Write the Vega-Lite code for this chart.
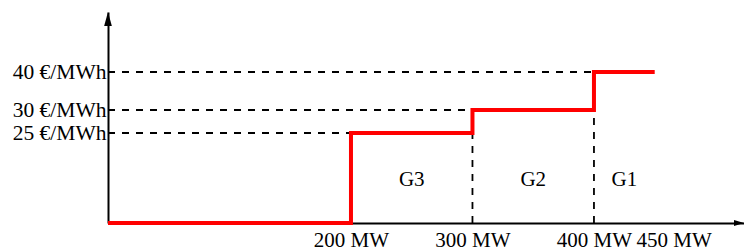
{
  "$schema": "https://vega.github.io/schema/vega-lite/v6.json",
  "width": 636,
  "height": 211,
  "autosize": {"type": "none"},
  "padding": {"left": 108, "top": 12, "right": 0, "bottom": 27},
  "background": "white",
  "config": {"view": {"stroke": null}},
  "datasets": {
    "steps": [
      {"mw": 0, "price": 0},
      {"mw": 200, "price": 25},
      {"mw": 300, "price": 30},
      {"mw": 400, "price": 40},
      {"mw": 450, "price": 40}
    ],
    "guides": [
      {"x": 0, "x2": 200, "y": 25, "y2": 25},
      {"x": 0, "x2": 300, "y": 30, "y2": 30},
      {"x": 0, "x2": 400, "y": 40, "y2": 40},
      {"x": 300, "x2": 300, "y": 0, "y2": 25},
      {"x": 400, "x2": 400, "y": 0, "y2": 30}
    ],
    "gens": [
      {"mw": 250, "price": 12, "name": "G3"},
      {"mw": 350, "price": 12, "name": "G2"},
      {"mw": 425, "price": 12, "name": "G1"}
    ],
    "arrowY": [{"mw": 0, "price": 55.9}],
    "arrowX": [{"mw": 523.5, "price": 0}]
  },
  "layer": [
    {
      "data": {"name": "guides"},
      "mark": {"type": "rule", "color": "black", "strokeWidth": 1.8, "strokeDash": [7, 7]},
      "encoding": {
        "x": {"field": "x", "type": "quantitative", "scale": {"domain": [0, 523.5], "nice": false, "zero": false},
          "axis": {"values": [200, 300, 400, 450], "labelExpr": "datum.value + ' MW'", "title": null,
            "grid": false, "ticks": false, "tickSize": 0, "domainColor": "black", "domainWidth": 2,
            "labelFont": "Liberation Serif", "labelFontSize": 21, "labelColor": "black",
            "labelBaseline": "top", "labelPadding": 6, "labelFlush": false, "labelOverlap": false,
            "labelOffset": {"condition": {"test": "datum.value == 450", "value": 19}, "value": 0}}},
        "x2": {"field": "x2"},
        "y": {"field": "y", "type": "quantitative",
          "scale": {"domain": [0, 25, 30, 40, 55.9], "range": [211, 121, 98, 60, 0], "nice": false, "zero": false},
          "axis": {"values": [25, 30, 40], "labelExpr": "datum.value + ' €/MWh'", "title": null,
            "grid": false, "ticks": false, "tickSize": 0, "domainColor": "black", "domainWidth": 2,
            "labelFont": "Liberation Serif", "labelFontSize": 21.5, "labelColor": "black",
            "labelPadding": 2, "labelFlush": false, "labelOverlap": false, "labelBaseline": "middle"}},
        "y2": {"field": "y2"}
      }
    },
    {
      "data": {"name": "steps"},
      "mark": {"type": "line", "color": "#ff0000", "strokeWidth": 4, "interpolate": "step-after", "strokeCap": "butt"},
      "encoding": {
        "x": {"field": "mw", "type": "quantitative"},
        "y": {"field": "price", "type": "quantitative"}
      }
    },
    {
      "data": {"name": "gens"},
      "mark": {"type": "text", "font": "Liberation Serif", "fontSize": 21, "color": "black"},
      "encoding": {
        "x": {"field": "mw", "type": "quantitative"},
        "y": {"field": "price", "type": "quantitative"},
        "text": {"field": "name"}
      }
    },
    {
      "data": {"name": "arrowY"},
      "mark": {"type": "point", "shape": "M0,0 L0.55,2 L-0.55,2 Z", "size": 196, "filled": true, "color": "black", "opacity": 1, "clip": false},
      "encoding": {
        "x": {"field": "mw", "type": "quantitative"},
        "y": {"field": "price", "type": "quantitative"}
      }
    },
    {
      "data": {"name": "arrowX"},
      "mark": {"type": "point", "shape": "M0,0 L-2,-0.6 L-2,0.6 Z", "size": 100, "filled": true, "color": "black", "opacity": 1, "clip": false},
      "encoding": {
        "x": {"field": "mw", "type": "quantitative"},
        "y": {"field": "price", "type": "quantitative"}
      }
    }
  ]
}
